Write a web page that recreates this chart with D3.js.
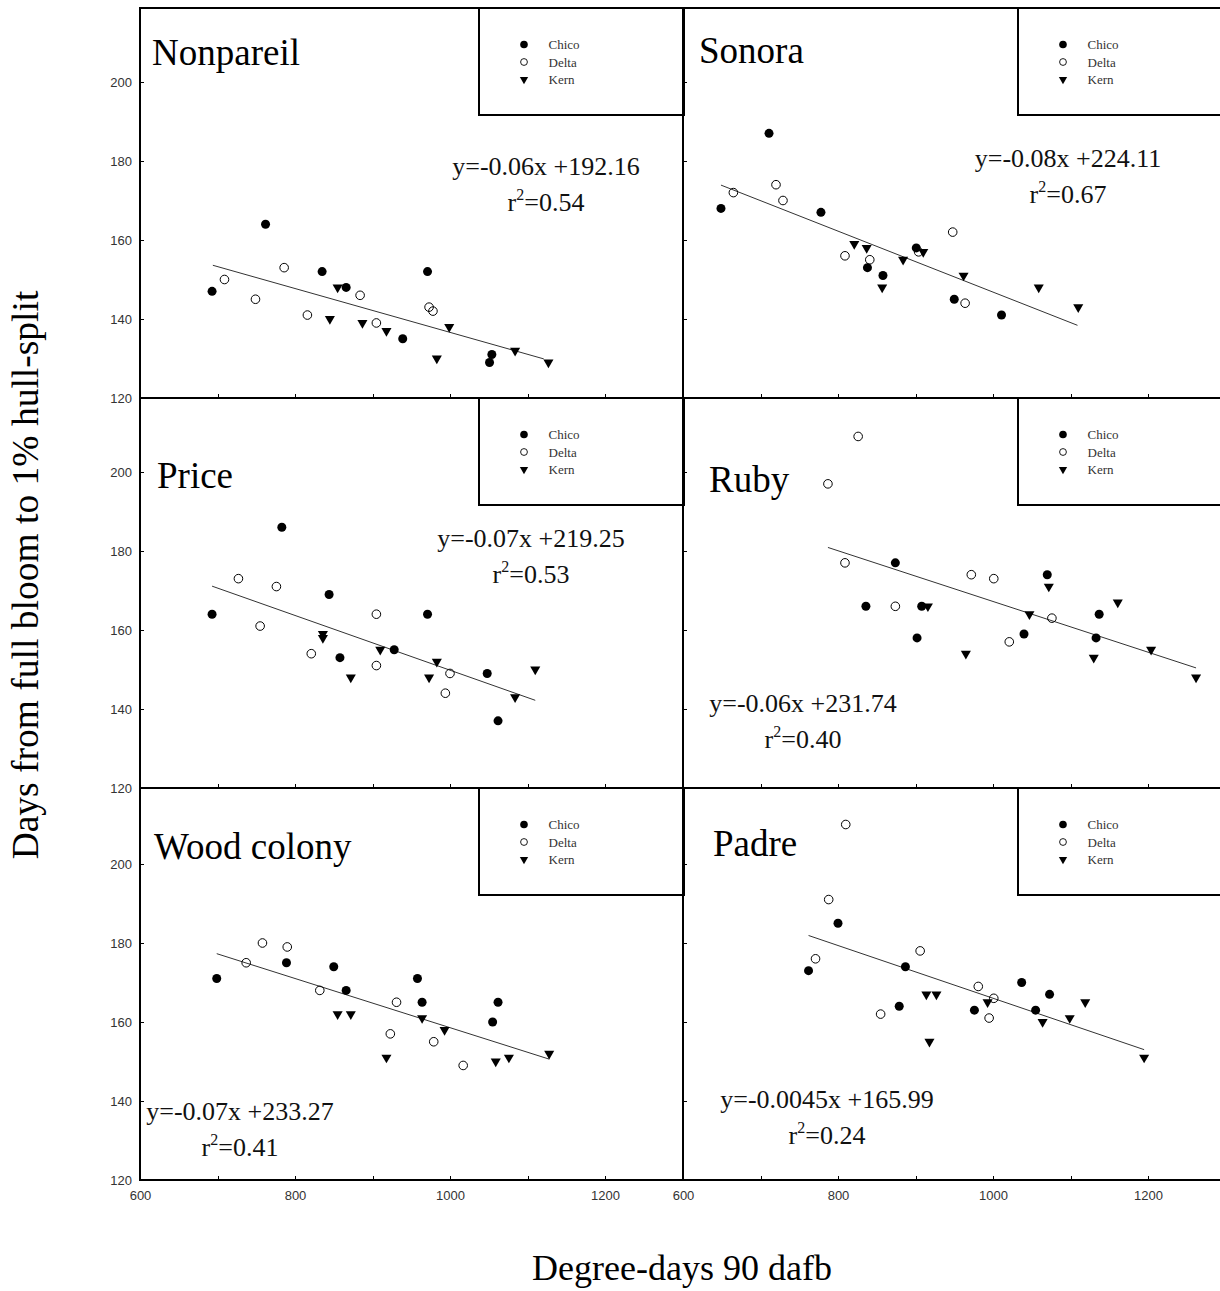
<!DOCTYPE html>
<html>
<head>
<meta charset="utf-8">
<script src="https://cdn.jsdelivr.net/npm/d3@7"></script>
<style>
  html, body { margin: 0; padding: 0; background: #fff; }
  svg { display: block; }
</style>
</head>
<body>
<svg id="chart" width="1220" height="1291"></svg>
<script>
// ---------------- DATA ----------------
const varieties = ["Nonpareil", "Sonora", "Price", "Ruby", "Wood colony", "Padre"];
const sites = ["Chico", "Delta", "Kern"];

const xTicks = [600, 700, 800, 900, 1000, 1100, 1200, 1300];
const xTickLabels = [600, 800, 1000, 1200];
const yTicks = [120, 140, 160, 180, 200];

// Nonpareil
const nonpareilChico = [[693,147],[762,164],[835,152],[866,148],[939,135],[971,152],[1051,129],[1054,131]];
const nonpareilDelta = [[709,150],[749,145],[786,153],[816,141],[884,146],[905,139],[973,143],[978,142]];
const nonpareilKern  = [[855,148],[845,140],[887,139],[918,137],[983,130],[999,138],[1084,132],[1127,129]];
// Sonora
const sonoraChico = [[649,168],[711,187],[778,167],[838,153],[858,151],[901,158],[950,145],[1011,141]];
const sonoraDelta = [[665,172],[720,174],[729,170],[809,156],[841,155],[904,157],[948,162],[964,144]];
const sonoraKern  = [[821,159],[837,158],[857,148],[884,155],[910,157],[962,151],[1059,148],[1110,143]];
// Price
const priceChico = [[693,164],[783,186],[844,169],[858,153],[928,155],[971,164],[1048,149],[1062,137]];
const priceDelta = [[727,173],[755,161],[776,171],[821,154],[905,164],[905,151],[994,144],[1000,149]];
const priceKern  = [[836,159],[836,158],[872,148],[910,155],[973,148],[983,152],[1084,143],[1110,150]];
// Ruby
const rubyChico = [[836,166],[874,177],[902,158],[908,166],[1040,159],[1070,174],[1133,158],[1137,164]];
const rubyDelta = [[787,197],[826,209],[809,177],[874,166],[972,174],[1001,173],[1021,157],[1076,163]];
const rubyKern  = [[916,166],[965,154],[1047,164],[1072,171],[1130,153],[1161,167],[1204,155],[1262,148]];
// Wood colony
const woodChico = [[699,171],[789,175],[850,174],[866,168],[958,171],[964,165],[1055,160],[1062,165]];
const woodDelta = [[737,175],[758,180],[790,179],[832,168],[923,157],[931,165],[979,155],[1017,149]];
const woodKern  = [[855,162],[872,162],[918,151],[964,161],[993,158],[1059,150],[1076,151],[1128,152]];
// Padre
const padreChico = [[762,173],[800,185],[887,174],[879,164],[976,163],[1037,170],[1055,163],[1073,167]];
const padreDelta = [[810,210],[788,191],[771,176],[855,162],[906,178],[981,169],[995,161],[1001,166]];
const padreKern  = [[914,167],[927,167],[918,155],[993,165],[1064,160],[1099,161],[1119,165],[1195,151]];

const chicoSets = [nonpareilChico, sonoraChico, priceChico, rubyChico, woodChico, padreChico];
const deltaSets = [nonpareilDelta, sonoraDelta, priceDelta, rubyDelta, woodDelta, padreDelta];
const kernSets  = [nonpareilKern, sonoraKern, priceKern, rubyKern, woodKern, padreKern];

// regression lines (start and end points)
const lineStart = [[694,153.6],[649,173.9],[693,171.1],[787,180.9],[699,177.3],[762,181.9]];
const lineEnd   = [[1121,129.9],[1109,138.4],[1110,142.2],[1262,150.4],[1128,150.6],[1195,153.0]];

const equations = ["y=-0.06x +192.16", "y=-0.08x +224.11", "y=-0.07x +219.25",
                   "y=-0.06x +231.74", "y=-0.07x +233.27", "y=-0.0045x +165.99"];
const r2Values = ["0.54", "0.67", "0.53", "0.40", "0.41", "0.24"];

const yTitle = "Days from full bloom to 1% hull-split";
const xTitle = "Degree-days 90 dafb";

// ---------------- LAYOUT ----------------
const colLeft = [140, 683];
const panelW = 543;
const rowTop = [8, 398, 788];
const rowBottom = [398, 788, 1180];
const legendDx = [339, 335];
const legendW = 205, legendH = 107;
// title offsets (from panel top-left, baseline)
const titlePos = [[12,57],[16,55],[17,90],[26,94],[14,71],[30,68]];
// equation centre x and baseline (from panel top-left)
const eqPos = [[406,167],[385,159],[391,149],[120,314],[100,332],[144,320]];

const serif = "'Liberation Serif', 'Times New Roman', serif";
const sans = "'Liberation Sans', Arial, sans-serif";

const svg = d3.select("#chart");

const triangle = d3.symbol().type(d3.symbolTriangle).size(44);
const triangleSmall = d3.symbol().type(d3.symbolTriangle).size(30);

varieties.forEach((name, i) => {
  const col = i % 2, row = Math.floor(i / 2);
  const x0 = colLeft[col];
  const top = rowTop[row], bottom = rowBottom[row];
  const x = d3.scaleLinear().domain([600, 1300]).range([x0, x0 + 542.5]);
  const y = d3.scaleLinear().domain([120, 200]).range([bottom, bottom - 316]);

  const g = svg.append("g");

  // frame
  g.append("rect")
    .attr("x", x0).attr("y", top)
    .attr("width", panelW).attr("height", bottom - top)
    .attr("fill", "none").attr("stroke", "#000").attr("stroke-width", 1.2)
    .attr("shape-rendering", "crispEdges");

  // x axis (ticks inward)
  const isBottom = row === 2;
  const xAxis = d3.axisBottom(x)
    .tickValues(xTicks)
    .tickSizeInner(-4).tickSizeOuter(0).tickPadding(11)
    .tickFormat(d => (isBottom && xTickLabels.includes(d)) ? d : "");
  const gx = g.append("g").attr("transform", `translate(0,${bottom})`).call(xAxis);
  gx.select(".domain").remove();
  gx.selectAll("line").attr("stroke", "#000").attr("shape-rendering", "crispEdges");
  gx.selectAll("text").attr("font-family", sans).attr("font-size", 13).attr("fill", "#333");

  // y axis (ticks inward)
  const yAxis = d3.axisLeft(y)
    .tickValues(yTicks)
    .tickSizeInner(-4).tickSizeOuter(0).tickPadding(8)
    .tickFormat(d => col === 0 ? d : "");
  const gy = g.append("g").attr("transform", `translate(${x0},0)`).call(yAxis);
  gy.select(".domain").remove();
  gy.selectAll("line").attr("stroke", "#000").attr("shape-rendering", "crispEdges");
  gy.selectAll("text").attr("font-family", sans).attr("font-size", 13).attr("fill", "#333");

  // legend box
  const lx = x0 + legendDx[col];
  g.append("rect")
    .attr("x", lx).attr("y", top)
    .attr("width", legendW).attr("height", legendH)
    .attr("fill", "#fff").attr("stroke", "#000").attr("stroke-width", 1.2)
    .attr("shape-rendering", "crispEdges");
  const legendRowsY = [36.5, 54, 71.5];
  sites.forEach((s, k) => {
    const ly = top + legendRowsY[k];
    if (k === 0) {
      g.append("circle").attr("cx", lx + 45).attr("cy", ly).attr("r", 3.8).attr("fill", "#000");
    } else if (k === 1) {
      g.append("circle").attr("cx", lx + 45).attr("cy", ly).attr("r", 3.4)
        .attr("fill", "#fff").attr("stroke", "#000").attr("stroke-width", 0.9);
    } else {
      g.append("path").attr("d", triangleSmall)
        .attr("transform", `translate(${lx + 45},${ly}) rotate(180)`).attr("fill", "#000");
    }
    g.append("text").attr("x", lx + 69.5).attr("y", ly + 4.5)
      .attr("font-family", serif).attr("font-size", 13).attr("fill", "#333").text(s);
  });

  // title
  g.append("text")
    .attr("x", x0 + titlePos[i][0]).attr("y", top + titlePos[i][1])
    .attr("font-family", serif).attr("font-size", 37).attr("fill", "#000").text(name);

  // regression line
  g.append("line")
    .attr("x1", x(lineStart[i][0])).attr("y1", y(lineStart[i][1]))
    .attr("x2", x(lineEnd[i][0])).attr("y2", y(lineEnd[i][1]))
    .attr("stroke", "#333").attr("stroke-width", 1);

  // points
  g.selectAll(".chico").data(chicoSets[i]).join("circle")
    .attr("cx", d => x(d[0])).attr("cy", d => y(d[1])).attr("r", 4.5).attr("fill", "#000");
  g.selectAll(".delta").data(deltaSets[i]).join("circle")
    .attr("cx", d => x(d[0])).attr("cy", d => y(d[1])).attr("r", 4.3)
    .attr("fill", "none").attr("stroke", "#000").attr("stroke-width", 1);
  g.selectAll(".kern").data(kernSets[i]).join("path")
    .attr("d", triangle)
    .attr("transform", d => `translate(${x(d[0])},${y(d[1])}) rotate(180)`)
    .attr("fill", "#000");

  // equation
  const ex = x0 + eqPos[i][0], ey = top + eqPos[i][1];
  g.append("text").attr("x", ex).attr("y", ey).attr("text-anchor", "middle")
    .attr("font-family", serif).attr("font-size", 26).attr("fill", "#111").text(equations[i]);
  const r2 = g.append("text").attr("x", ex).attr("y", ey + 36).attr("text-anchor", "middle")
    .attr("font-family", serif).attr("font-size", 26).attr("fill", "#111");
  r2.append("tspan").text("r");
  r2.append("tspan").attr("font-size", 16).attr("dy", -11).text("2");
  r2.append("tspan").attr("dy", 11).text("=" + r2Values[i]);
});

// axis titles
svg.append("text")
  .attr("transform", "translate(38,575) rotate(-90)")
  .attr("text-anchor", "middle")
  .attr("font-family", serif).attr("font-size", 37.5).attr("fill", "#000")
  .text(yTitle);
svg.append("text")
  .attr("x", 682).attr("y", 1280)
  .attr("text-anchor", "middle")
  .attr("font-family", serif).attr("font-size", 36).attr("fill", "#000")
  .text(xTitle);
</script>
</body>
</html>
